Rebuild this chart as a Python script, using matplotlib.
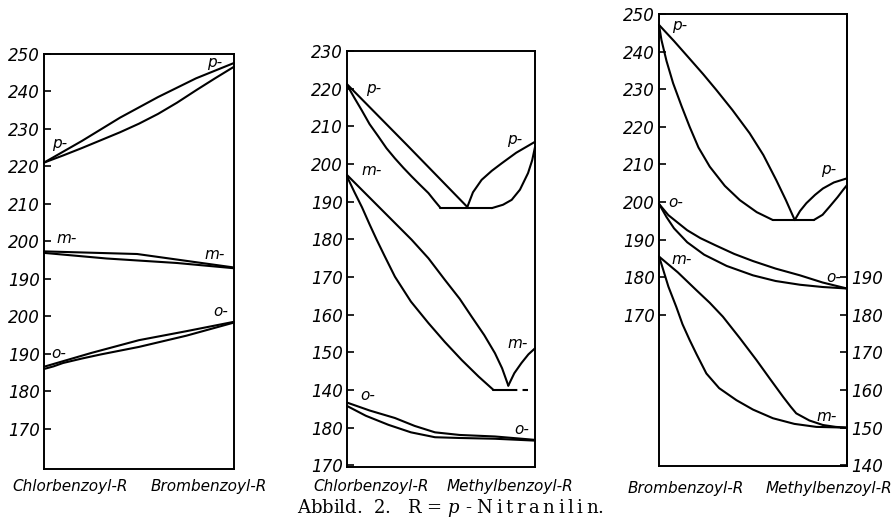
import numpy as np
import matplotlib
matplotlib.use("Agg")
import matplotlib.pyplot as plt

plt.rcParams['mathtext.fontset'] = 'custom'
plt.rcParams['mathtext.it'] = 'DejaVu Serif:italic'
plt.rcParams['mathtext.rm'] = 'DejaVu Serif'

# ---------------- data (temperatures as read on the printed scales) -------------
# Panel 1: Chlorbenzoyl-R / Brombenzoyl-R ; lower part (o-) uses second scale
P1_LOWER_SHIFT = 20          # lower scale value - 20 = position on upper scale
p1_p_liq_x = [0, 0.2, 0.4, 0.6, 0.8, 1]
p1_p_liq_y = [221, 226.8, 233.0, 238.5, 243.5, 247.6]
p1_p_sol_x = [0, 0.1, 0.2, 0.3, 0.4, 0.5, 0.6, 0.7, 0.8, 0.9, 1]
p1_p_sol_y = [221, 222.9, 224.9, 227.0, 229.1, 231.4, 234.0, 237.0, 240.3, 243.5, 246.6]
p1_m_liq_x = [0, 0.49, 1]
p1_m_liq_y = [197.3, 196.6, 193.0]
p1_m_sol_x = [0, 0.33, 0.7, 1]
p1_m_sol_y = [196.9, 195.4, 194.2, 192.8]
p1_o_liq_x = [0, 0.25, 0.5, 0.75, 1]
p1_o_liq_y = [186.5, 190.2, 193.6, 196.0, 198.5]
p1_o_sol_x = [0, 0.05, 0.1, 0.2, 0.3, 0.5, 0.75, 1]
p1_o_sol_y = [185.9, 186.6, 187.5, 188.7, 189.8, 191.8, 194.8, 198.3]
p1_ticks = [250, 240, 230, 220, 210, 200, 190]
p1_ticks_low = [200, 190, 180, 170]

# Panel 2: Chlorbenzoyl-R / Methylbenzoyl-R ; lower part (o-) uses second scale
P2_LOWER_SHIFT = 50
p2_p_liq_l_x = [0, 0.32, 0.64]
p2_p_liq_l_y = [221.2, 205.0, 188.6]
p2_p_sol_l_x = [0, 0.04, 0.078, 0.12, 0.167, 0.21, 0.255, 0.3, 0.344, 0.39, 0.433, 0.465, 0.495]
p2_p_sol_l_y = [221.0, 217.5, 214.3, 210.6, 207.3, 204.2, 201.5, 199.0, 196.7, 194.4, 192.3, 190.3, 188.5]
p2_p_eut_x = [0.495, 0.77]
p2_p_eut_y = [188.3, 188.3]
p2_p_sol_r_x = [0.77, 0.83, 0.876, 0.92, 0.963, 0.985, 1]
p2_p_sol_r_y = [188.3, 189.2, 190.5, 193.2, 197.6, 201.0, 204.5]
p2_p_liq_r_x = [0.64, 0.67, 0.716, 0.77, 0.823, 0.9, 1]
p2_p_liq_r_y = [188.6, 192.5, 195.8, 198.2, 200.2, 203.0, 205.9]
p2_m_liq_l_x = [0, 0.17, 0.344, 0.433, 0.52, 0.6, 0.663, 0.73, 0.787, 0.825, 0.858]
p2_m_liq_l_y = [197.1, 188.6, 179.9, 175.0, 169.3, 164.2, 159.5, 154.6, 149.8, 145.8, 141.2]
p2_m_sol_l_x = [0, 0.04, 0.08, 0.12, 0.158, 0.2, 0.255, 0.34, 0.433, 0.52, 0.61, 0.7, 0.778]
p2_m_sol_l_y = [196.7, 192.5, 188.5, 184.0, 179.9, 175.6, 170.1, 163.5, 157.8, 152.8, 148.0, 143.6, 140.1]
p2_m_eut_x = [0.778, 0.86]
p2_m_eut_y = [140.1, 140.1]
p2_m_eut_dash_x = [0.86, 0.963]
p2_m_eut_dash_y = [140.1, 140.1]
p2_m_liq_r_x = [0.858, 0.89, 0.928, 0.965, 1]
p2_m_liq_r_y = [141.2, 144.5, 147.2, 149.5, 151.1]
p2_o_liq_x = [0, 0.12, 0.255, 0.36, 0.468, 0.6, 0.787, 1]
p2_o_liq_y = [186.7, 184.6, 182.6, 180.5, 178.8, 178.1, 177.7, 176.8]
p2_o_sol_x = [0, 0.1, 0.22, 0.34, 0.468, 0.6, 0.787, 1]
p2_o_sol_y = [185.8, 183.2, 180.8, 178.8, 177.5, 177.3, 177.1, 176.6]
p2_ticks = [230, 220, 210, 200, 190, 180, 170, 160, 150, 140]
p2_ticks_low = [180, 170]

# Panel 3: Brombenzoyl-R / Methylbenzoyl-R ; right scale = left scale + 10
P3_RIGHT_SHIFT = 10
p3_p_liq_l_x = [0, 0.08, 0.163, 0.235, 0.305, 0.39, 0.482, 0.555, 0.624, 0.675, 0.722]
p3_p_liq_l_y = [247.1, 242.8, 238.1, 234.0, 229.8, 224.5, 218.3, 212.5, 205.8, 200.5, 195.2]
p3_p_sol_l_x = [0, 0.013, 0.04, 0.075, 0.12, 0.163, 0.21, 0.27, 0.35, 0.43, 0.52, 0.606]
p3_p_sol_l_y = [247.1, 243.1, 237.5, 231.6, 225.5, 220.0, 214.5, 209.4, 204.3, 200.5, 197.3, 195.2]
p3_p_eut_x = [0.606, 0.823]
p3_p_eut_y = [195.2, 195.2]
p3_p_sol_r_x = [0.823, 0.87, 0.908, 0.95, 0.979, 1]
p3_p_sol_r_y = [195.2, 196.6, 198.8, 201.3, 203.2, 204.5]
p3_p_liq_r_x = [0.722, 0.75, 0.784, 0.83, 0.872, 0.93, 1]
p3_p_liq_r_y = [195.2, 197.6, 199.7, 201.9, 203.6, 205.2, 206.3]
p3_o_liq_x = [0, 0.05, 0.1, 0.15, 0.22, 0.3, 0.4, 0.5, 0.62, 0.75, 0.87, 1]
p3_o_liq_y = [199.5, 196.5, 194.5, 192.5, 190.4, 188.5, 186.2, 184.3, 182.3, 180.5, 178.6, 177.0]
p3_o_sol_x = [0, 0.04, 0.08, 0.15, 0.24, 0.36, 0.5, 0.62, 0.75, 0.87, 1]
p3_o_sol_y = [199.5, 196.0, 193.0, 189.3, 186.0, 183.0, 180.5, 179.0, 178.0, 177.4, 177.0]
p3_m_liq_x = [0, 0.1, 0.2, 0.27, 0.34, 0.43, 0.518, 0.59, 0.66, 0.7, 0.73, 0.8, 0.872, 0.94, 1]
p3_m_liq_y = [185.5, 181.3, 176.5, 173.2, 169.5, 163.8, 158.0, 153.0, 148.2, 145.6,
              143.8, 141.9, 140.7, 140.2, 140.0]
p3_m_sol_x = [0, 0.013, 0.05, 0.092, 0.125, 0.163, 0.2, 0.252, 0.32, 0.412, 0.5, 0.606, 0.72, 0.837, 1]
p3_m_sol_y = [185.5, 183.5, 177.5, 172.1, 167.5, 163.3, 159.5, 154.4, 150.5, 147.3, 144.8,
              142.5, 141.0, 140.2, 140.0]
p3_ticks = [250, 240, 230, 220, 210, 200, 190, 180, 170]
p3_ticks_right = [190, 180, 170, 160, 150, 140]

# curve labels: (text, x, temperature, shift)
p1_labels = [("p-", 0.08, 226.1, 0), ("p-", 0.9, 247.8, 0), ("m-", 0.12, 200.7, 0),
             ("m-", 0.9, 196.6, 0), ("o-", 0.08, 190.1, P1_LOWER_SHIFT),
             ("o-", 0.93, 201.2, P1_LOWER_SHIFT)]
p2_labels = [("p-", 0.14, 220.0, 0), ("p-", 0.89, 206.6, 0), ("m-", 0.13, 198.4, 0),
             ("m-", 0.91, 152.3, 0), ("o-", 0.11, 188.5, P2_LOWER_SHIFT),
             ("o-", 0.93, 179.6, P2_LOWER_SHIFT)]
p3_labels = [("p-", 0.11, 247.0, 0), ("p-", 0.9, 208.6, 0), ("o-", 0.09, 200.0, 0),
             ("o-", 0.93, 180.0, 0), ("m-", 0.12, 184.6, 0), ("m-", 0.89, 143.0, 0)]

x_labels = [("Chlorbenzoyl-R", 70, 487), ("Brombenzoyl-R", 209, 487),
            ("Chlorbenzoyl-R", 371, 487), ("Methylbenzoyl-R", 510, 487),
            ("Brombenzoyl-R", 686, 488), ("Methylbenzoyl-R", 829, 488)]
caption = "Abbild.  2.   R = $p$ - N\u2009i\u2009t\u2009r\u2009a\u2009n\u2009i\u2009l\u2009i\u2009n."

# ---------------- drawing ---------------------------------------------------------
W, H = 895, 524
fig = plt.figure(figsize=(W / 100, H / 100), dpi=100)

TICK_SIZE = 12
LBL_FONT = dict(family='DejaVu Sans', style='italic', size=11)


def make_ax(left, right, top, bottom, ylim):
    ax = fig.add_axes([left / W, (H - bottom) / H, (right - left) / W, (bottom - top) / H])
    ax.set_xlim(0, 1)
    ax.set_ylim(*ylim)
    ax.set_xticks([])
    for s in ax.spines.values():
        s.set_linewidth(1.4)
    ax.tick_params(axis='y', direction='in', length=5, width=1.2, pad=3)
    return ax


def curve(ax, xs, ys, shift=0, ls='-'):
    ax.plot(xs, np.asarray(ys) - shift, color='black', lw=1.5, ls=ls,
            solid_joinstyle='round', solid_capstyle='round', clip_on=False)


def style_ticklabels(labels):
    for t in labels:
        t.set_fontfamily('DejaVu Sans')
        t.set_fontstyle('italic')
        t.set_fontsize(TICK_SIZE)


def set_ticks(ax, upper, lower, shift):
    pos = list(upper) + [v - shift for v in lower]
    ax.set_yticks(pos)
    ax.set_yticklabels([str(v) for v in upper] + [str(v) for v in lower])
    style_ticklabels(ax.get_yticklabels())


def put_labels(ax, labels):
    for txt, x, t, sh in labels:
        ax.text(x, t - sh, txt, ha='center', va='center', **LBL_FONT)


# Panel 1
ax1 = make_ax(44, 234, 54, 469, (139.2, 250))
set_ticks(ax1, p1_ticks, p1_ticks_low, P1_LOWER_SHIFT)
curve(ax1, p1_p_liq_x, p1_p_liq_y)
curve(ax1, p1_p_sol_x, p1_p_sol_y)
curve(ax1, p1_m_liq_x, p1_m_liq_y)
curve(ax1, p1_m_sol_x, p1_m_sol_y)
curve(ax1, p1_o_liq_x, p1_o_liq_y, P1_LOWER_SHIFT)
curve(ax1, p1_o_sol_x, p1_o_sol_y, P1_LOWER_SHIFT)
put_labels(ax1, p1_labels)

# Panel 2
ax2 = make_ax(347, 535, 51, 467, (119.6, 230))
set_ticks(ax2, p2_ticks, p2_ticks_low, P2_LOWER_SHIFT)
curve(ax2, p2_p_liq_l_x, p2_p_liq_l_y)
curve(ax2, p2_p_sol_l_x, p2_p_sol_l_y)
curve(ax2, p2_p_eut_x, p2_p_eut_y)
curve(ax2, p2_p_sol_r_x, p2_p_sol_r_y)
curve(ax2, p2_p_liq_r_x, p2_p_liq_r_y)
curve(ax2, p2_m_liq_l_x, p2_m_liq_l_y)
curve(ax2, p2_m_sol_l_x, p2_m_sol_l_y)
curve(ax2, p2_m_eut_x, p2_m_eut_y)
ax2.plot(p2_m_eut_dash_x, p2_m_eut_dash_y, color='black', lw=1.5, dashes=(4, 2.5))
curve(ax2, p2_m_liq_r_x, p2_m_liq_r_y)
curve(ax2, p2_o_liq_x, p2_o_liq_y, P2_LOWER_SHIFT)
curve(ax2, p2_o_sol_x, p2_o_sol_y, P2_LOWER_SHIFT)
put_labels(ax2, p2_labels)

# Panel 3
ax3 = make_ax(659, 847, 14, 466, (129.8, 250))
set_ticks(ax3, p3_ticks, [], 0)
sec = ax3.secondary_yaxis('right', functions=(lambda y: y + P3_RIGHT_SHIFT,
                                               lambda y: y - P3_RIGHT_SHIFT))
sec.set_yticks(p3_ticks_right)
sec.set_yticklabels([str(v) for v in p3_ticks_right])
sec.tick_params(direction='in', length=5, width=1.2, pad=3)
sec.spines['right'].set_linewidth(1.4)
style_ticklabels(sec.get_yticklabels())
curve(ax3, p3_p_liq_l_x, p3_p_liq_l_y)
curve(ax3, p3_p_sol_l_x, p3_p_sol_l_y)
curve(ax3, p3_p_eut_x, p3_p_eut_y)
curve(ax3, p3_p_sol_r_x, p3_p_sol_r_y)
curve(ax3, p3_p_liq_r_x, p3_p_liq_r_y)
curve(ax3, p3_o_liq_x, p3_o_liq_y)
curve(ax3, p3_o_sol_x, p3_o_sol_y)
curve(ax3, p3_m_liq_x, p3_m_liq_y)
curve(ax3, p3_m_sol_x, p3_m_sol_y)
put_labels(ax3, p3_labels)

for txt, x, y in x_labels:
    fig.text(x / W, (H - y) / H, txt, ha='center', va='center',
             family='DejaVu Sans', style='italic', size=11)

fig.text(450 / W, (H - 508) / H, caption, ha='center', va='center',
         family='DejaVu Serif', size=13)

fig.savefig("out.png", dpi=100)
